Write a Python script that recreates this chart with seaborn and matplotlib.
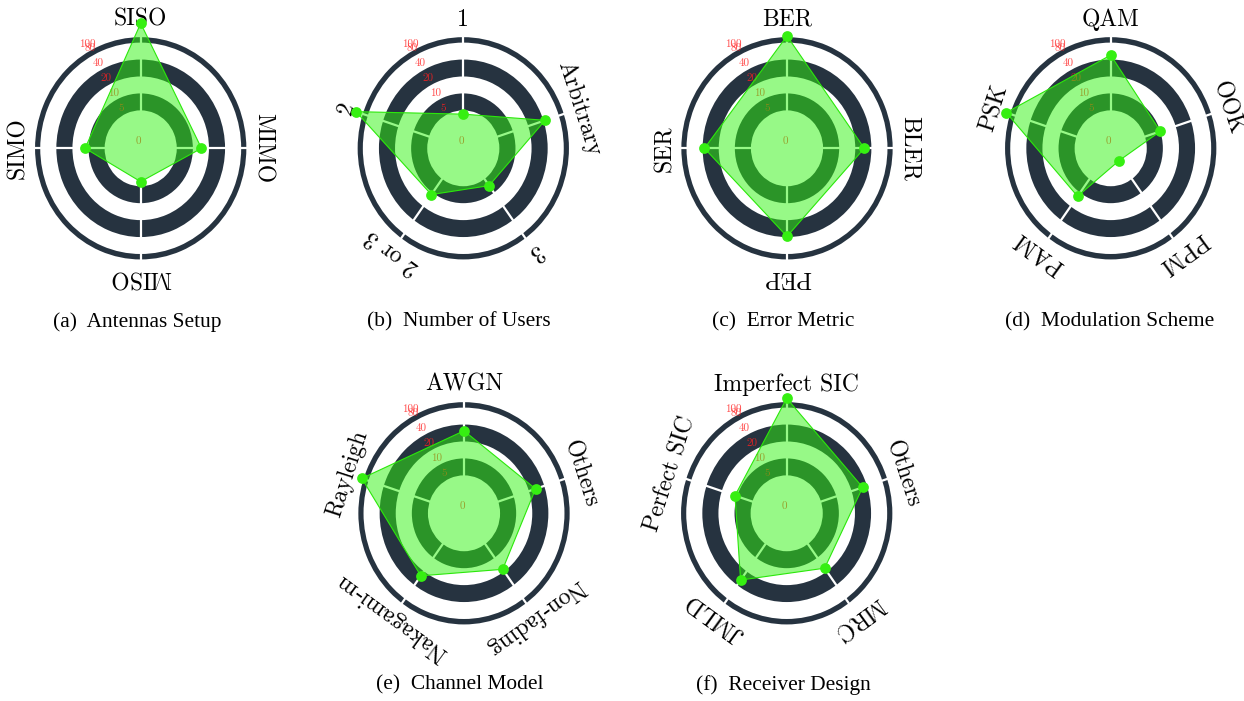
import numpy as np
import matplotlib.pyplot as plt
from matplotlib.ticker import NullLocator
import seaborn as sns

sns.set_theme(style="white")
plt.rcParams['font.family'] = ['cmr10', 'DejaVu Serif']
plt.rcParams['mathtext.fontset'] = 'cm'
plt.rcParams['axes.formatter.use_mathtext'] = True
plt.rcParams['text.color'] = 'black'

# ---- data (number of works per category)
antennas_labels = ["SISO", "MIMO", "MISO", "SIMO"]
antennas_counts = [176, 14.5, 4.4, 11.6]

users_labels = ["1", "Arbitrary", "3", "2 or 3", "2"]
users_counts = [4.5, 43, 7, 11, 136]

error_labels = ["BER", "BLER", "PEP", "SER"]
error_counts = [105, 29.5, 39, 37]

modulation_labels = ["QAM", "OOK", "PPM", "PAM", "PSK"]
modulation_counts = [48, 10, 2, 12, 120]

channel_labels = ["AWGN", "Others", "Non-fading", "Nakagami-m", "Rayleigh"]
channel_counts = [31, 27, 18, 25, 108]

receiver_labels = ["Imperfect SIC", "Others", "MRC", "JMLD", "Perfect SIC"]
receiver_counts = [117, 33, 17, 31, 11]

captions = ["(a)  Antennas Setup", "(b)  Number of Users", "(c)  Error Metric",
            "(d)  Modulation Scheme", "(e)  Channel Model", "(f)  Receiver Design"]

r_ticks = [0, 5, 10, 20, 40, 80, 100]
dark_bands = [(5, 10), (20, 40), (80, 100)]
RMAX = 205

# ---- style
DARK = "#263340"
FILL = "#31f511"
EDGE = "#2be80a"
DOT = "#36ef12"
TICK_RED = (1, 0.12, 0.12, 0.8)

W, H = 1244, 701
fig = plt.figure(figsize=(W / 100, H / 100), dpi=100)

# pixel size of one symlog unit and the slight vertical stretch of the original
K = 3.22
STRETCH = 1.052
OUT_MAX = 5 * (2.24 + np.log2(RMAX / 5))
half_w = K * OUT_MAX
half_h = half_w * STRETCH
RLABEL_ANGLE = np.radians(-29)


def radar(cx, cy, labels, counts, caption, capx, capy):
    ax = fig.add_axes([(cx - half_w) / W, 1 - (cy + half_h) / H,
                       2 * half_w / W, 2 * half_h / H], projection="polar")
    ax.set_aspect("auto")
    ax.set_theta_zero_location("N")
    ax.set_theta_direction(-1)
    ax.set_rscale("symlog", base=2, linthresh=5, linscale=1.12)
    ax.set_ylim(0, RMAX)
    ax.set_facecolor("white")
    ax.spines["polar"].set_visible(False)
    ax.set_axisbelow("line")

    # alternating rings
    for lo, hi in dark_bands:
        ax.bar(0, hi - lo, width=2 * np.pi, bottom=lo, align="edge",
               color=DARK, linewidth=0, zorder=1)

    angles = np.linspace(0, 2 * np.pi, len(labels), endpoint=False)
    ax.set_xticks(angles)
    ax.set_xticklabels([])
    ax.xaxis.grid(True, color="white", linewidth=1.6)
    ax.yaxis.grid(False)
    ax.set_yticks(r_ticks)
    ax.yaxis.set_minor_locator(NullLocator())
    ax.set_yticklabels([])

    # radial tick labels, sitting just above each ring edge
    for t in r_ticks:
        ax.annotate(str(t), xy=(RLABEL_ANGLE, t), xytext=(-1.5, 5.2),
                    textcoords="offset points", ha="center", va="center",
                    fontsize=8, color=TICK_RED, zorder=2, annotation_clip=False)

    th = np.append(angles, angles[0])
    vals = np.append(counts, counts[0])
    ax.fill(th, vals, color=FILL, alpha=0.5, zorder=3, linewidth=0)
    ax.plot(th, vals, color=EDGE, linewidth=0.8, zorder=3.5, clip_on=False)
    sns.scatterplot(x=angles, y=counts, ax=ax, color=DOT, s=60,
                    linewidth=0, zorder=4, clip_on=False)

    for a, lab in zip(angles, labels):
        ax.text(a, RMAX, lab, rotation=-np.degrees(a), rotation_mode="anchor",
                ha="center", va="center", fontsize=17, color="black",
                clip_on=False)

    fig.text(capx / W, 1 - capy / H, caption, ha="center", va="center",
             fontsize=15.4, family="Liberation Serif", color="black")


radar(140.7, 148.3, antennas_labels, antennas_counts, captions[0], 137, 322)
radar(463.3, 148.3, users_labels, users_counts, captions[1], 459, 322)
radar(787.0, 148.3, error_labels, error_counts, captions[2], 783, 322)
radar(1110.7, 148.3, modulation_labels, modulation_counts, captions[3], 1110, 322)
radar(464.0, 513.3, channel_labels, channel_counts, captions[4], 460, 685)
radar(786.7, 513.3, receiver_labels, receiver_counts, captions[5], 783, 685)

fig.savefig("out.png", dpi=100, facecolor="white")
